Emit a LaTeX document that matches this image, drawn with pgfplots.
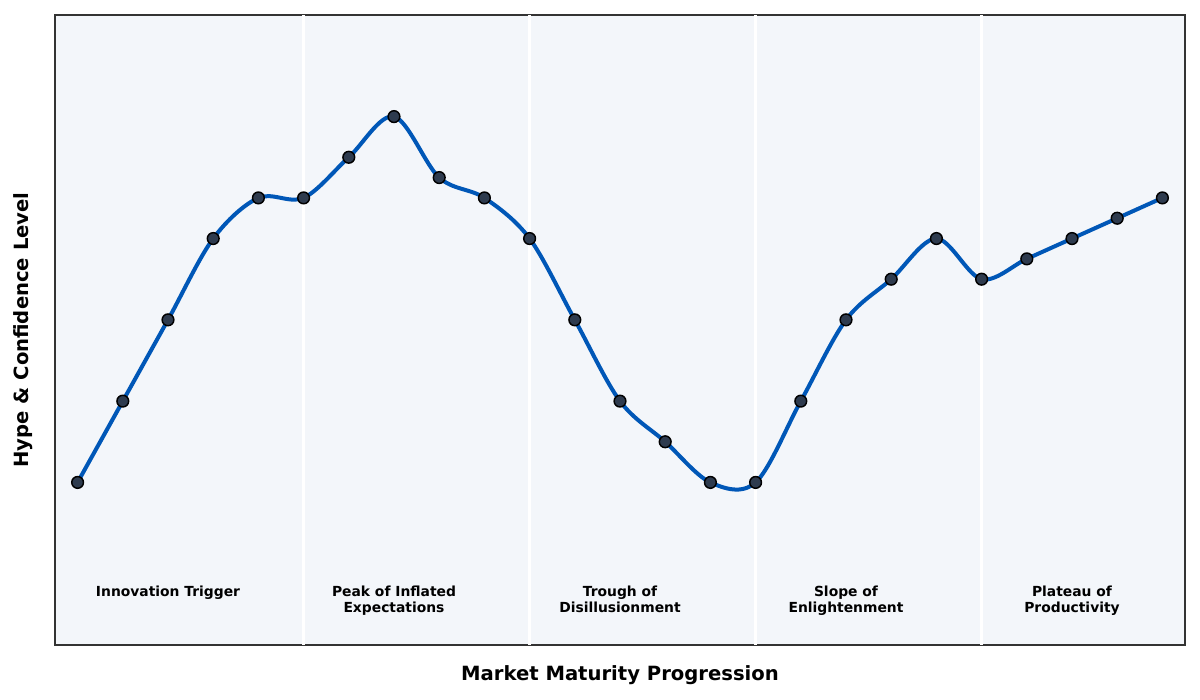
\documentclass[border=0pt]{standalone}
\usepackage{pgfplots}
\pgfplotsset{compat=1.18}
\usepackage{fontspec}
\setmainfont{DejaVu Sans}
\definecolor{bgc}{HTML}{F3F6FA}
\definecolor{linec}{HTML}{0057B7}
\definecolor{markc}{HTML}{2E3B4E}
\definecolor{framec}{HTML}{333333}
\begin{document}
\begin{tikzpicture}
\useasboundingbox (-41.25pt,-41.25pt) rectangle (858.75pt,483.75pt);
\begin{axis}[
  at={(0,0)}, anchor=south west,
  scale only axis, width=847.5pt, height=472.5pt,
  xmin=-0.5, xmax=24.5, ymin=-2, ymax=13.5,
  xtick=\empty, ytick=\empty,
  axis background/.style={fill=bgc},
  axis line style={draw=framec, line width=1.1pt},
  clip=true,
]
\addplot[draw=white, line width=2pt, forget plot] coordinates {(5,-2) (5,13.5)};
\addplot[draw=white, line width=2pt, forget plot] coordinates {(10,-2) (10,13.5)};
\addplot[draw=white, line width=2pt, forget plot] coordinates {(15,-2) (15,13.5)};
\addplot[draw=white, line width=2pt, forget plot] coordinates {(20,-2) (20,13.5)};
\addplot[linec, line width=3pt, smooth, tension=0.55,
  mark=*, mark size=4.4pt,
  mark options={fill=markc, draw=black, line width=1.1pt}]
coordinates {
(0,2) (1,4) (2,6) (3,8) (4,9) (5,9) (6,10) (7,11) (8,9.5) (9,9)
(10,8) (11,6) (12,4) (13,3) (14,2) (15,2) (16,4) (17,6) (18,7) (19,8)
(20,7) (21,7.5) (22,8) (23,8.5) (24,9)
};
\tikzset{phase/.style={anchor=north, inner sep=0pt, align=center, font=\bfseries\fontsize{10.4}{11.6}\selectfont}}
\node[phase] at (axis cs:2,-0.55) {Innovation Trigger};
\node[phase] at (axis cs:7,-0.55) {Peak of Inflated\\Expectations};
\node[phase] at (axis cs:12,-0.55) {Trough of\\Disillusionment};
\node[phase] at (axis cs:17,-0.55) {Slope of\\Enlightenment};
\node[phase] at (axis cs:22,-0.55) {Plateau of\\Productivity};
\end{axis}
\node[rotate=90, font=\bfseries\fontsize{14.7}{17}\selectfont] at (-24pt,236.25pt) {Hype \& Confidence Level};
\node[font=\bfseries\fontsize{14.7}{17}\selectfont] at (423.75pt,-22.5pt) {Market Maturity Progression};
\end{tikzpicture}
\end{document}
